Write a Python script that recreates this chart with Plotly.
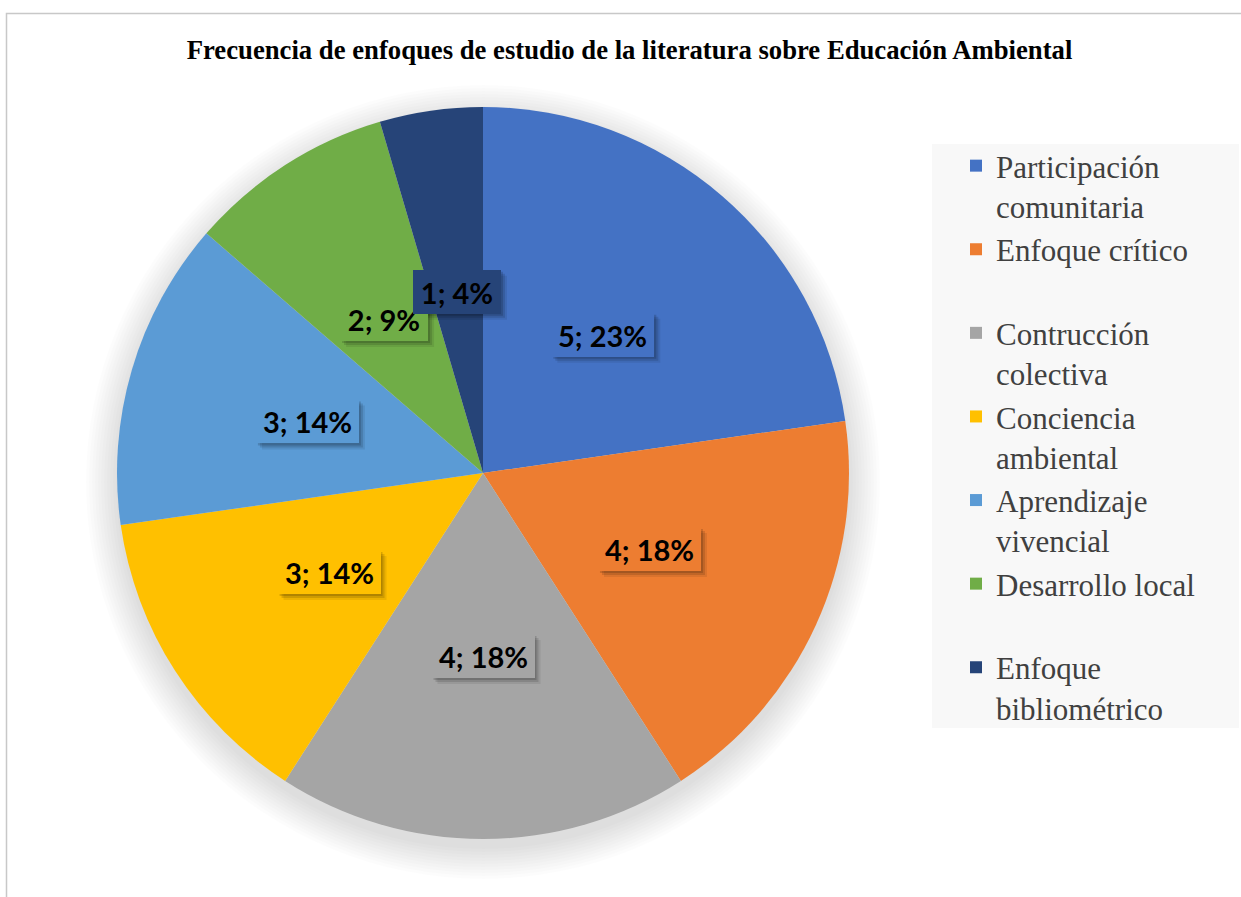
import math
import plotly.graph_objects as go

# Data
categorias = [
    "Participación<br>comunitaria",
    "Enfoque crítico<br>\u00a0",
    "Contrucción<br>colectiva",
    "Conciencia<br>ambiental",
    "Aprendizaje<br>vivencial",
    "Desarrollo local<br>\u00a0",
    "Enfoque<br>bibliométrico",
]
frecuencias = [5, 4, 4, 3, 3, 2, 1]
porcentajes = [23, 18, 18, 14, 14, 9, 4]
colores = ["#4472C4", "#ED7D31", "#A5A5A5", "#FFC000", "#5B9BD5", "#70AD47", "#264478"]

W, H = 1241, 897
# pie geometry in pixels
cx, cy, R = 483, 473, 366

fig = go.Figure()

fig.add_trace(
    go.Pie(
        labels=categorias,
        values=frecuencias,
        marker=dict(colors=colores, line=dict(width=0)),
        sort=False,
        direction="clockwise",
        rotation=0,
        textinfo="none",
        hoverinfo="label+value+percent",
        domain=dict(
            x=[(cx - R) / W, (cx + R) / W],
            y=[1 - (cy + R) / H, 1 - (cy - R) / H],
        ),
    )
)

# Soft shadow under the pie (stack of faint circles)
shapes = []
for k in range(1, 34, 3):
    r = R + k
    sy = cy + 9
    shapes.append(
        dict(
            type="circle", xref="paper", yref="paper", layer="below",
            x0=(cx - r) / W, x1=(cx + r) / W,
            y0=1 - (sy + r) / H, y1=1 - (sy - r) / H,
            fillcolor="rgba(0,0,0,0.011)", line=dict(width=0),
        )
    )

# legend background and outer chart border
shapes.append(dict(type="rect", xref="paper", yref="paper", layer="below",
                   x0=932 / W, x1=1239 / W, y0=1 - 728 / H, y1=1 - 144 / H,
                   fillcolor="#F8F8F8", line=dict(width=0)))
shapes.append(dict(type="rect", xref="paper", yref="paper", layer="above",
                   x0=6.5 / W, x1=1250 / W, y0=-0.05, y1=1 - 13.5 / H,
                   fillcolor="rgba(0,0,0,0)", line=dict(color="#C8C8C8", width=1.5)))

# Data labels "n; p%" in a box of the slice colour with a soft drop shadow
annotations = []
total = sum(frecuencias)
acum = 0
for v, p, c in zip(frecuencias, porcentajes, colores):
    ang = math.radians((acum + v / 2) / total * 360)
    acum += v
    px_ = cx + 0.5 * R * math.sin(ang)
    py_ = cy - 0.5 * R * math.cos(ang)
    texto = f"{v}; {p}%"
    bw = 15 * len(texto) + 13
    bh = 44
    for off, a in [(6, 0.08), (4, 0.12), (2, 0.15)]:
        shapes.append(dict(
            type="rect", xref="paper", yref="paper", layer="above",
            x0=(px_ - bw / 2 + off) / W, x1=(px_ + bw / 2 + off) / W,
            y0=1 - (py_ + bh / 2 + off) / H, y1=1 - (py_ - bh / 2 + off) / H,
            fillcolor=f"rgba(0,0,0,{a})", line=dict(width=0),
        ))
    annotations.append(dict(
        x=px_ / W, y=1 - py_ / H, xref="paper", yref="paper",
        xanchor="center", yanchor="middle", showarrow=False,
        text=f"<b>{texto}</b>", width=bw, height=bh, borderpad=0, borderwidth=0,
        bgcolor=c, font=dict(family="Lato", size=29, color="#000000"),
    ))

fig.update_layout(
    width=W,
    height=H,
    autosize=False,
    margin=dict(l=0, r=0, t=0, b=0),
    paper_bgcolor="white",
    plot_bgcolor="white",
    title=dict(
        text="Frecuencia de enfoques de estudio de la literatura sobre Educación Ambiental",
        x=629.5 / W, y=1 - 50 / H, xanchor="center", yanchor="middle",
        font=dict(family="Liberation Serif", size=26.7, color="#000000", weight="bold"),
    ),
    legend=dict(
        x=956 / W, y=1 - 139 / H, xanchor="left", yanchor="top",
        bgcolor="rgba(0,0,0,0)",
        font=dict(family="Liberation Serif", size=31, color="#404040"),
        valign="top",
        traceorder="normal",
    ),
    shapes=shapes,
    annotations=annotations,
)

# drop the default page margin so the figure sits at the window's top-left corner
fig.write_html("out.html", config={"displayModeBar": False},
               post_script="document.body.style.margin='0';")
